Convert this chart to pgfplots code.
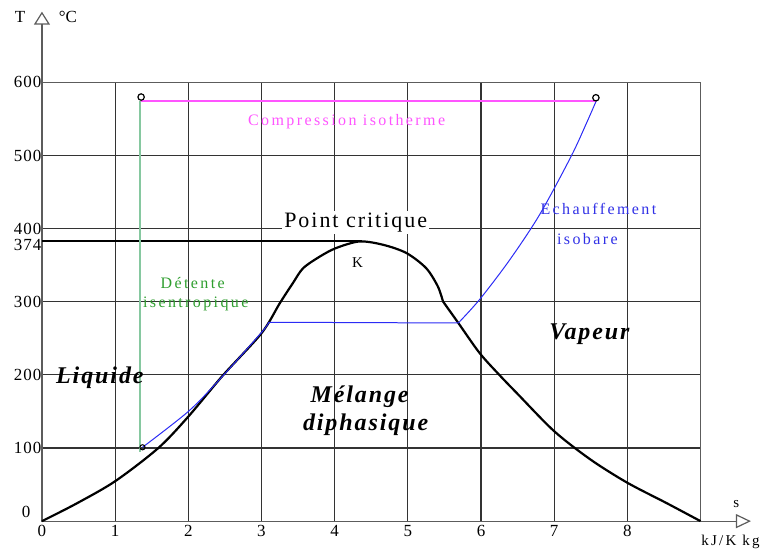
\documentclass[border=0pt]{standalone}
\usepackage{fontspec}
\setmainfont{Liberation Serif}
\newfontfamily\spaced[LetterSpace=15]{Liberation Serif}
\newfontfamily\tight[LetterSpace=9]{Liberation Serif}
\newfontfamily\tickf[LetterSpace=6]{Liberation Serif}
\newfontfamily\brush[LetterSpace=8]{Liberation Serif}
\usepackage{pgfplots}
\pgfplotsset{compat=1.18}
\usetikzlibrary{arrows.meta}

\definecolor{gridc}{HTML}{333333}
\definecolor{isoblue}{HTML}{2B2BF5}
\definecolor{textblue}{HTML}{3030E6}
\definecolor{magen}{HTML}{FF55FF}
\definecolor{greenline}{HTML}{86C8A0}
\definecolor{greentext}{HTML}{2E9E2E}

\newcommand{\fs}[1]{\fontsize{#1bp}{#1bp}\selectfont}

\begin{document}
\begin{tikzpicture}
\begin{axis}[
  scale only axis,
  x=73.25bp, y=0.732bp,
  xmin=0, xmax=9, ymin=0, ymax=600,
  xtick={0,1,...,8}, ytick={100,200,...,600},
  extra y ticks={383}, extra y tick labels={374},
  extra y tick style={grid=none, yticklabel style={yshift=-4bp}},
  major tick length=0pt,
  grid=major,
  grid style={gridc, line width=1.1bp},
  axis line style={gridc!80, line width=1.2bp},
  ticklabel style={font=\tickf\fs{17}},
  xticklabel style={yshift=-1bp},
  yticklabel style={xshift=3bp},
  /pgf/number format/assume math mode=true,
  clip=false,
]
% bounding box of the whole picture
\path (axis cs:-0.5734,-40) rectangle (axis cs:9.843,712.7);

% axis arrows
\draw[gridc!80, line width=1.2bp, -{Triangle[open, length=13bp, width=16bp]}]
  (axis cs:0,600) -- (axis cs:0,696.7);
\draw[gridc!80, line width=1.2bp, -{Triangle[open, length=15bp, width=14bp]}]
  (axis cs:9,0) -- (axis cs:9.689,0);

% critical temperature line
\addplot[black, line width=1.5bp] coordinates {(0,383) (4.38,383)};

% saturation dome
\addplot[black, line width=2.2bp, smooth] coordinates {
  (0,0) (0.47,24) (1.0,54.6) (1.59,100) (2.0,143) (2.47,199)
  (3.0,257) (3.25,298) (3.43,325.7) (3.57,346)
  (3.80,362) (4.02,373.5) (4.34,382.5) (4.66,378) (4.98,366.7) (5.25,346)
  (5.41,321) (5.48,300.5)
};
\addplot[black, line width=2.2bp, smooth, tension=0.5] coordinates {
  (5.48,300.5) (5.69,271) (5.98,230) (6.25,200) (6.5,174) (7.0,123)
  (7.5,84) (8.0,52.5) (8.53,25) (9.0,0)
};

% isobaric heating
\addplot[isoblue, line width=1bp, smooth] coordinates {
  (1.374,101) (2.0,150) (2.43,194) (3.0,258) (3.10,272)
};
\addplot[isoblue, line width=1bp] coordinates {(3.10,272) (5.69,271)};
\addplot[isoblue, line width=1bp, smooth] coordinates {
  (5.69,271) (5.98,303) (6.39,357) (6.8,419) (7.23,498.6) (7.44,544) (7.58,576)
};

% isothermal compression and isentropic expansion
\addplot[magen, line width=2bp] coordinates {(1.355,575) (7.57,575)};
\addplot[greenline, line width=2bp] coordinates {(1.34,575) (1.34,94)};

% state points
\addplot[only marks, mark=o, mark size=3.2bp, black, line width=1.2bp,
  mark options={fill=white}] coordinates {(1.355,580) (7.57,579)};
\addplot[only marks, mark=o, mark size=2.6bp, black, line width=1bp,
  mark options={fill=white}] coordinates {(1.374,101)};

% labels
\node at (axis cs:-0.218,12) {\tickf\fs{17}0};
\node at (axis cs:-0.30,690) {\fs{17}T};
\node at (axis cs:0.355,690) {\fs{17}°C};
\node at (axis cs:9.49,23) {\fs{15}s};
\node at (axis cs:9.41,-29) {\spaced\fs{15}kJ/K kg};

\node[magen] at (axis cs:4.164,546) {\spaced\fs{16}Compression isotherme};
\node[textblue] at (axis cs:7.604,427) {\spaced\fs{16}Echauffement};
\node[textblue] at (axis cs:7.454,386) {\spaced\fs{16}isobare};
\node[fill=white, inner sep=2bp] at (axis cs:4.287,408) {\tight\fs{22}Point critique};
\node at (axis cs:4.314,353) {\fs{15}K};
\node[greentext] at (axis cs:2.061,326) {\spaced\fs{16}Détente};
\node[greentext] at (axis cs:2.102,297) {\spaced\fs{16}isentropique};

\node at (axis cs:0.792,196) {\brush\bfseries\itshape\fs{24}Liquide};
\node at (axis cs:4.341,170) {\brush\bfseries\itshape\fs{24}Mélange};
\node at (axis cs:4.423,132) {\brush\bfseries\itshape\fs{24}diphasique};
\node at (axis cs:7.481,255) {\brush\bfseries\itshape\fs{24}Vapeur};
\end{axis}
\end{tikzpicture}
\end{document}
